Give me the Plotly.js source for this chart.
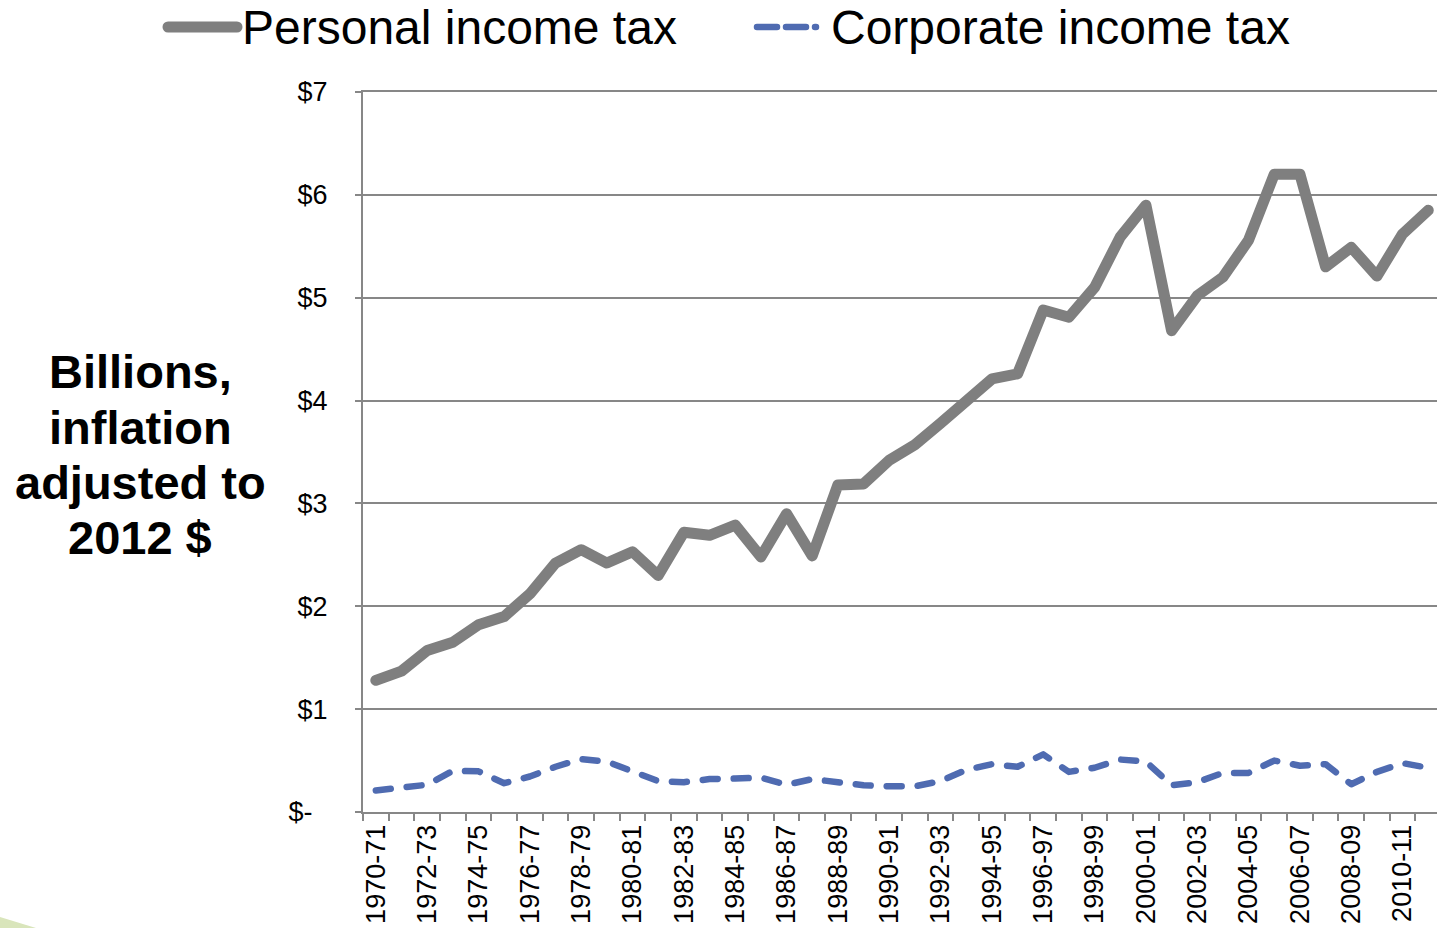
<!DOCTYPE html>
<html>
<head>
<meta charset="utf-8">
<script src="https://cdn.plot.ly/plotly-3.0.1.min.js"></script>
<style>
  html, body { margin: 0; padding: 0; background: #ffffff; }
  #chart { width: 1437px; height: 928px; }
  .scatterlayer .js-line, .shapelayer path { stroke-linecap: round !important; stroke-linejoin: round !important; }
</style>
</head>
<body>
<div id="chart"></div>
<script>
// ---- data ----
const categories = [
  '1970-71','1971-72','1972-73','1973-74','1974-75','1975-76','1976-77','1977-78',
  '1978-79','1979-80','1980-81','1981-82','1982-83','1983-84','1984-85','1985-86',
  '1986-87','1987-88','1988-89','1989-90','1990-91','1991-92','1992-93','1993-94',
  '1994-95','1995-96','1996-97','1997-98','1998-99','1999-00','2000-01','2001-02',
  '2002-03','2003-04','2004-05','2005-06','2006-07','2007-08','2008-09','2009-10',
  '2010-11','2011-12'
];
const personalIncomeTax = [
  1.28, 1.37, 1.57, 1.65, 1.82, 1.90, 2.12, 2.42, 2.55, 2.42,
  2.53, 2.30, 2.72, 2.69, 2.79, 2.48, 2.90, 2.49, 3.18, 3.19,
  3.42, 3.57, 3.78, 4.00, 4.21, 4.26, 4.88, 4.81, 5.10, 5.59,
  5.90, 4.68, 5.02, 5.20, 5.56, 6.20, 6.20, 5.30, 5.49, 5.21,
  5.62, 5.85
];
const corporateIncomeTax = [
  0.21, 0.23, 0.265, 0.40, 0.395, 0.28, 0.345, 0.44, 0.515, 0.49,
  0.39, 0.30, 0.29, 0.32, 0.325, 0.335, 0.265, 0.32, 0.29, 0.26,
  0.25, 0.25, 0.30, 0.41, 0.465, 0.44, 0.56, 0.39, 0.43, 0.51,
  0.49, 0.26, 0.29, 0.38, 0.38, 0.50, 0.45, 0.465, 0.27, 0.39,
  0.475, 0.43
];
const xTickLabels = [
  '1970-71','1972-73','1974-75','1976-77','1978-79','1980-81','1982-83','1984-85',
  '1986-87','1988-89','1990-91','1992-93','1994-95','1996-97','1998-99','2000-01',
  '2002-03','2004-05','2006-07','2008-09','2010-11'
];
const yTickValues = [0, 1, 2, 3, 4, 5, 6, 7];
const yTickLabels = ['$-\u00a0\u00a0', '$1', '$2', '$3', '$4', '$5', '$6', '$7'];
const seriesNames = ['Personal income tax', 'Corporate income tax'];
const yTitleLines = ['Billions,', 'inflation', 'adjusted to', '2012 $'];

// ---- layout helpers (pixel -> paper) ----
const L = 363, T = 92, PW = 1074, PH = 720;
const px2x = px => (px - L) / PW;
const py2y = py => (T + PH - py) / PH;

const FONT = 'Liberation Sans, Arial, sans-serif';
const GRAY = '#7f7f7f';
const BLUE = '#4f6bb1';
const AXIS = '#878787';

const traces = [
  {
    x: categories, y: personalIncomeTax, name: seriesNames[0],
    type: 'scatter', mode: 'lines',
    line: { color: GRAY, width: 11 },
    hoverinfo: 'x+y'
  },
  {
    x: categories, y: corporateIncomeTax, name: seriesNames[1],
    type: 'scatter', mode: 'lines',
    line: { color: BLUE, width: 6.5, dash: '15px,16px' },
    hoverinfo: 'x+y'
  }
];

const titleCenters = [372, 427, 482, 537];
const titleAnnotations = yTitleLines.map((t, i) => ({
  xref: 'paper', yref: 'paper', x: px2x(140), y: py2y(titleCenters[i]),
  xanchor: 'center', yanchor: 'middle', showarrow: false,
  text: t, font: { family: FONT, size: 47, color: '#000000', weight: 'bold' }
}));

const layout = {
  width: 1437, height: 928,
  margin: { l: L, r: 0, t: T, b: 928 - T - PH, pad: 0 },
  paper_bgcolor: '#ffffff', plot_bgcolor: '#ffffff',
  showlegend: false,
  font: { family: FONT, color: '#000000' },
  xaxis: {
    type: 'category',
    categoryorder: 'array', categoryarray: categories,
    range: [-0.5, 41.34],
    tickmode: 'array',
    tickvals: categories,
    ticktext: categories.map(c => xTickLabels.includes(c) ? c : ''),
    tickangle: -90,
    tickfont: { family: FONT, size: 27, color: '#000000' },
    ticks: 'outside', ticklen: 7, tickwidth: 2, tickcolor: AXIS,
    tickson: 'boundaries',
    showline: true, linecolor: AXIS, linewidth: 2, mirror: true,
    showgrid: false, zeroline: false, fixedrange: true
  },
  yaxis: {
    range: [0, 7],
    tickmode: 'array', tickvals: yTickValues, ticktext: yTickLabels,
    tickfont: { family: FONT, size: 27, color: '#000000' },
    ticks: 'outside', ticklen: 6, tickwidth: 2, tickcolor: AXIS,
    ticklabelstandoff: 22,
    showline: true, linecolor: AXIS, linewidth: 2,
    showgrid: true, gridcolor: AXIS, gridwidth: 2,
    zeroline: false, fixedrange: true
  },
  shapes: [
    { type: 'line', xref: 'paper', yref: 'paper',
      x0: px2x(168), x1: px2x(237), y0: py2y(27), y1: py2y(27),
      line: { color: GRAY, width: 11 } },
    { type: 'line', xref: 'paper', yref: 'paper',
      x0: px2x(757), x1: px2x(818), y0: py2y(27), y1: py2y(27),
      line: { color: BLUE, width: 6.5, dash: '20px,9px,20px,9px,1px,60px' } },
    { type: 'path', xref: 'paper', yref: 'paper',
      path: 'M ' + px2x(0) + ' ' + py2y(917) + ' L ' + px2x(36) + ' ' + py2y(928) +
            ' L ' + px2x(0) + ' ' + py2y(928) + ' Z',
      fillcolor: '#d9e5bb', line: { width: 0 } }
  ],
  annotations: [
    { xref: 'paper', yref: 'paper', x: px2x(240), y: py2y(27),
      xanchor: 'left', yanchor: 'middle', showarrow: false,
      text: seriesNames[0], font: { family: FONT, size: 48, color: '#000000' } },
    { xref: 'paper', yref: 'paper', x: px2x(829), y: py2y(27),
      xanchor: 'left', yanchor: 'middle', showarrow: false,
      text: seriesNames[1], font: { family: FONT, size: 48, color: '#000000' } }
  ].concat(titleAnnotations)
};

Plotly.newPlot('chart', traces, layout, { displayModeBar: false, staticPlot: true });
</script>
</body>
</html>
